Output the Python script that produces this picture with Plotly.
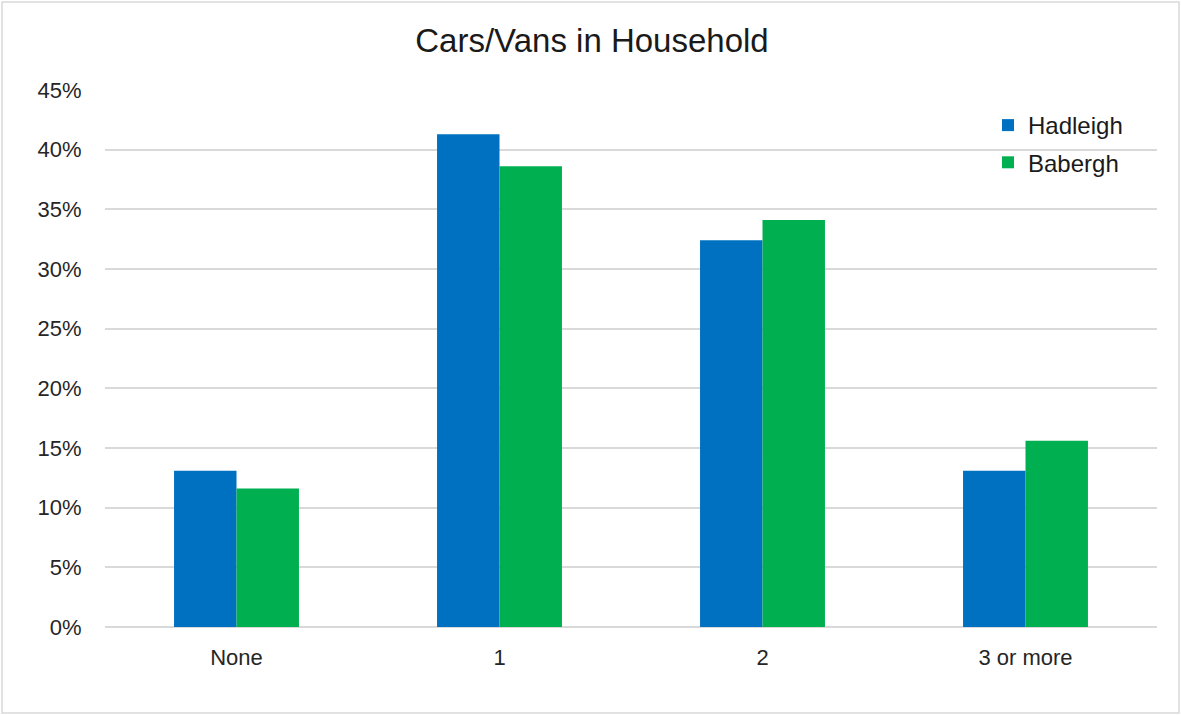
import plotly.graph_objects as go

categories = ["None", "1", "2", "3 or more"]
hadleigh = [0.131, 0.413, 0.324, 0.131]
babergh = [0.116, 0.386, 0.341, 0.156]
series_names = ["Hadleigh", "Babergh"]
y_ticks = [0, 0.05, 0.10, 0.15, 0.20, 0.25, 0.30, 0.35, 0.40, 0.45]

W, H = 1181, 715
ml, mr, mt, mb = 105, 24, 90, 88
pw, ph = W - ml - mr, H - mt - mb

font = "Liberation Sans, Arial, sans-serif"

fig = go.Figure()
fig.add_trace(go.Bar(x=categories, y=hadleigh, name=series_names[0],
                     marker=dict(color="#0070C0", line=dict(width=0)),
                     legendgroup="a"))
fig.add_trace(go.Bar(x=categories, y=babergh, name=series_names[1],
                     marker=dict(color="#00B050", line=dict(width=0)),
                     legendgroup="b"))

fig.update_layout(
    width=W, height=H,
    margin=dict(l=ml, r=mr, t=mt, b=mb),
    paper_bgcolor="white", plot_bgcolor="white",
    barmode="group", bargap=0.525, bargroupgap=0,
    title=dict(text="Cars/Vans in Household", x=592 / W, xanchor="center",
               y=1 - 40 / H, yanchor="middle",
               font=dict(family=font, size=33, color="#1a1a1a")),
    font=dict(family=font, size=22, color="#262626"),
    legend=dict(x=(988 - ml) / pw, xanchor="left", y=(H - mb - 103) / ph, yanchor="top",
                bgcolor="rgba(0,0,0,0)", font=dict(size=24, color="#1a1a1a"),
                traceorder="grouped", tracegroupgap=3, itemwidth=30),
    xaxis=dict(showgrid=False, showline=False, zeroline=False,
               ticks="outside", ticklen=11, tickcolor="rgba(0,0,0,0)",
               tickfont=dict(size=22, color="#262626")),
    yaxis=dict(range=[0, 0.45], tickvals=y_ticks, tickformat=".0%",
               showgrid=True, gridcolor="#d9d9d9", gridwidth=1.5,
               zeroline=True, zerolinecolor="#d9d9d9", zerolinewidth=1.5,
               showline=False, ticks="outside", ticklen=18,
               tickcolor="rgba(0,0,0,0)",
               tickfont=dict(size=22, color="#262626")),
    shapes=[dict(type="rect", xref="paper", yref="paper",
                 x0=(2 - ml) / pw, x1=(1179 - ml) / pw,
                 y0=(H - mb - 713) / ph, y1=(H - mb - 2) / ph,
                 line=dict(color="#d9d9d9", width=1.5), fillcolor="rgba(0,0,0,0)",
                 layer="below")],
)

fig.write_html("out.html", config={"displayModeBar": False},
               post_script="document.body.style.margin='0';document.body.style.overflow='hidden';")
